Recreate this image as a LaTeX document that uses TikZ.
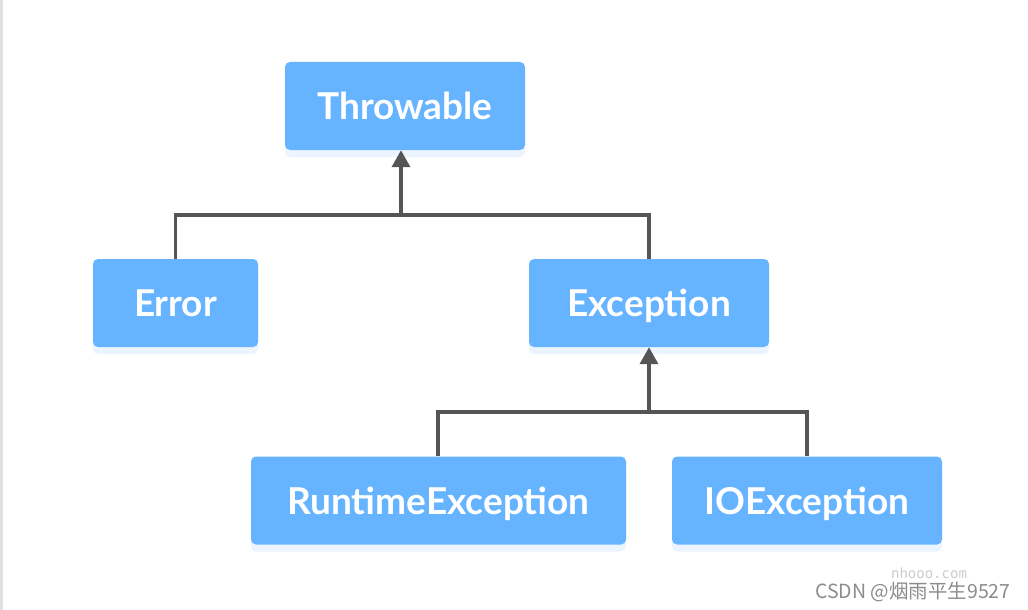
\documentclass[tikz,border=0pt]{standalone}
\usepackage{fontspec}
\setmainfont{Lato}
\newfontfamily\cjkfont{Noto Sans CJK SC}
\newfontfamily\wmfont{DejaVu Sans Mono}
\usetikzlibrary{arrows.meta,shadows}
\definecolor{boxblue}{HTML}{66B3FF}
\definecolor{linegray}{HTML}{555555}
\definecolor{shadowblue}{HTML}{D6EAFF}
\begin{document}
\begin{tikzpicture}[x=1pt,y=-1pt,
  cls/.style={fill=boxblue, rounded corners=5pt, minimum height=88pt, inner sep=0pt,
    text=white, font=\fontsize{37}{40}\selectfont\bfseries,
    text height=27pt, text depth=0pt,
    drop shadow={shadow xshift=0pt, shadow yshift=-7pt, fill=shadowblue, opacity=0.45}},
  conn/.style={draw=linegray, line width=3.6pt},
  arr/.style={conn, -{Triangle[length=17pt,width=18pt]}}]
\useasboundingbox (0,0) rectangle (1028,610);
\fill[white] (0,0) rectangle (1028,610);
\fill[gray!25] (0,0) rectangle (3,610);
\node[cls, minimum width=240pt] (thr) at (405,106) {Throwable};
\node[cls, minimum width=165pt] (err) at (175.5,303) {Error};
\node[cls, minimum width=240pt] (exc) at (649,303) {Exception};
\node[cls, minimum width=375pt] (rte) at (438.5,500.5) {RuntimeException};
\node[cls, minimum width=270pt] (ioe) at (807,500.5) {IOException};
\coordinate (j1) at (401,215);
\coordinate (j2) at (649,412);
\draw[conn] (err.north) |- (j1) -| (exc.north);
\draw[arr] (j1) -- (j1 |- thr.south);
\draw[conn] (rte.north -| 438,0) |- (j2) -| (ioe.north);
\draw[arr] (j2) -- (j2 |- exc.south);
\node[text=gray!40, font=\wmfont\fontsize{14}{15}\selectfont, inner sep=0pt] (wm1) at (929,573) {nhooo.com};
\node[text=gray!90, font=\cjkfont\fontsize{19.5}{20}\selectfont, inner sep=0pt] (wm2) at (913,592) {CSDN @烟雨平生9527};
\end{tikzpicture}
\end{document}
